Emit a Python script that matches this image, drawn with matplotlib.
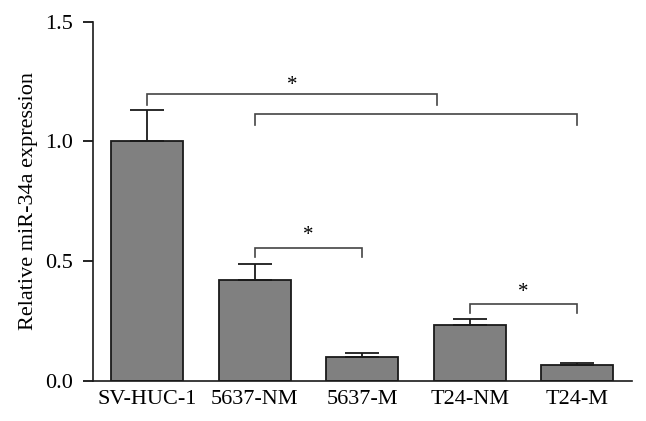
import numpy as np
import matplotlib.pyplot as plt

plt.rcParams['font.family'] = ['Liberation Serif', 'DejaVu Serif']

groups = ['SV-HUC-1', '5637-NM', '5637-M', 'T24-NM', 'T24-M']
means = [1.0, 0.422, 0.099, 0.233, 0.066]
errs = [0.13, 0.064, 0.017, 0.025, 0.009]

# significance brackets: (start, end, height, tip drop)
brackets = [(0, 2.7, 1.197, 0.045),
            (1, 4, 1.114, 0.046),
            (1, 2, 0.556, 0.039),
            (3, 4, 0.322, 0.039)]
stars = [(1.35, 1.235, '*'), (1.5, 0.608, '*'), (3.5, 0.368, '*')]

fig = plt.figure(figsize=(6.46, 4.21), dpi=100)
ax = fig.add_axes([0.1435, 0.0957, 0.835, 0.853])

x = np.arange(len(groups))
ax.bar(x, means, width=0.67, color='#808080', edgecolor='#1a1a1a', linewidth=1.3,
       yerr=[np.zeros(len(errs)), errs],
       error_kw=dict(ecolor='#1a1a1a', elinewidth=1.3, capsize=12.5, capthick=1.3))

for x0, x1, h, d in brackets:
    ax.plot([x0, x0, x1, x1], [h - d, h, h, h - d], color='#444444', lw=1.2,
            solid_joinstyle='miter')
for sx, sy, s in stars:
    ax.text(sx, sy, s, ha='center', va='center', fontsize=15)

ax.set_xlim(-0.505, 4.51)
ax.set_ylim(0, 1.5)
ax.set_yticks([0, 0.5, 1.0, 1.5])
ax.set_yticklabels(['0.0', '0.5', '1.0', '1.5'])
ax.set_xticks(x)
ax.set_xticklabels(groups)
ax.tick_params(axis='y', direction='out', length=7, width=1.2, labelsize=16, pad=7)
ax.tick_params(axis='x', length=0, labelsize=16, pad=7)
ax.set_ylabel('Relative miR-34a expression', fontsize=16, labelpad=5)

for side in ['top', 'right']:
    ax.spines[side].set_visible(False)
for side in ['left', 'bottom']:
    ax.spines[side].set_linewidth(1.2)
    ax.spines[side].set_color('#1a1a1a')

fig.savefig('out.png', dpi=100)
